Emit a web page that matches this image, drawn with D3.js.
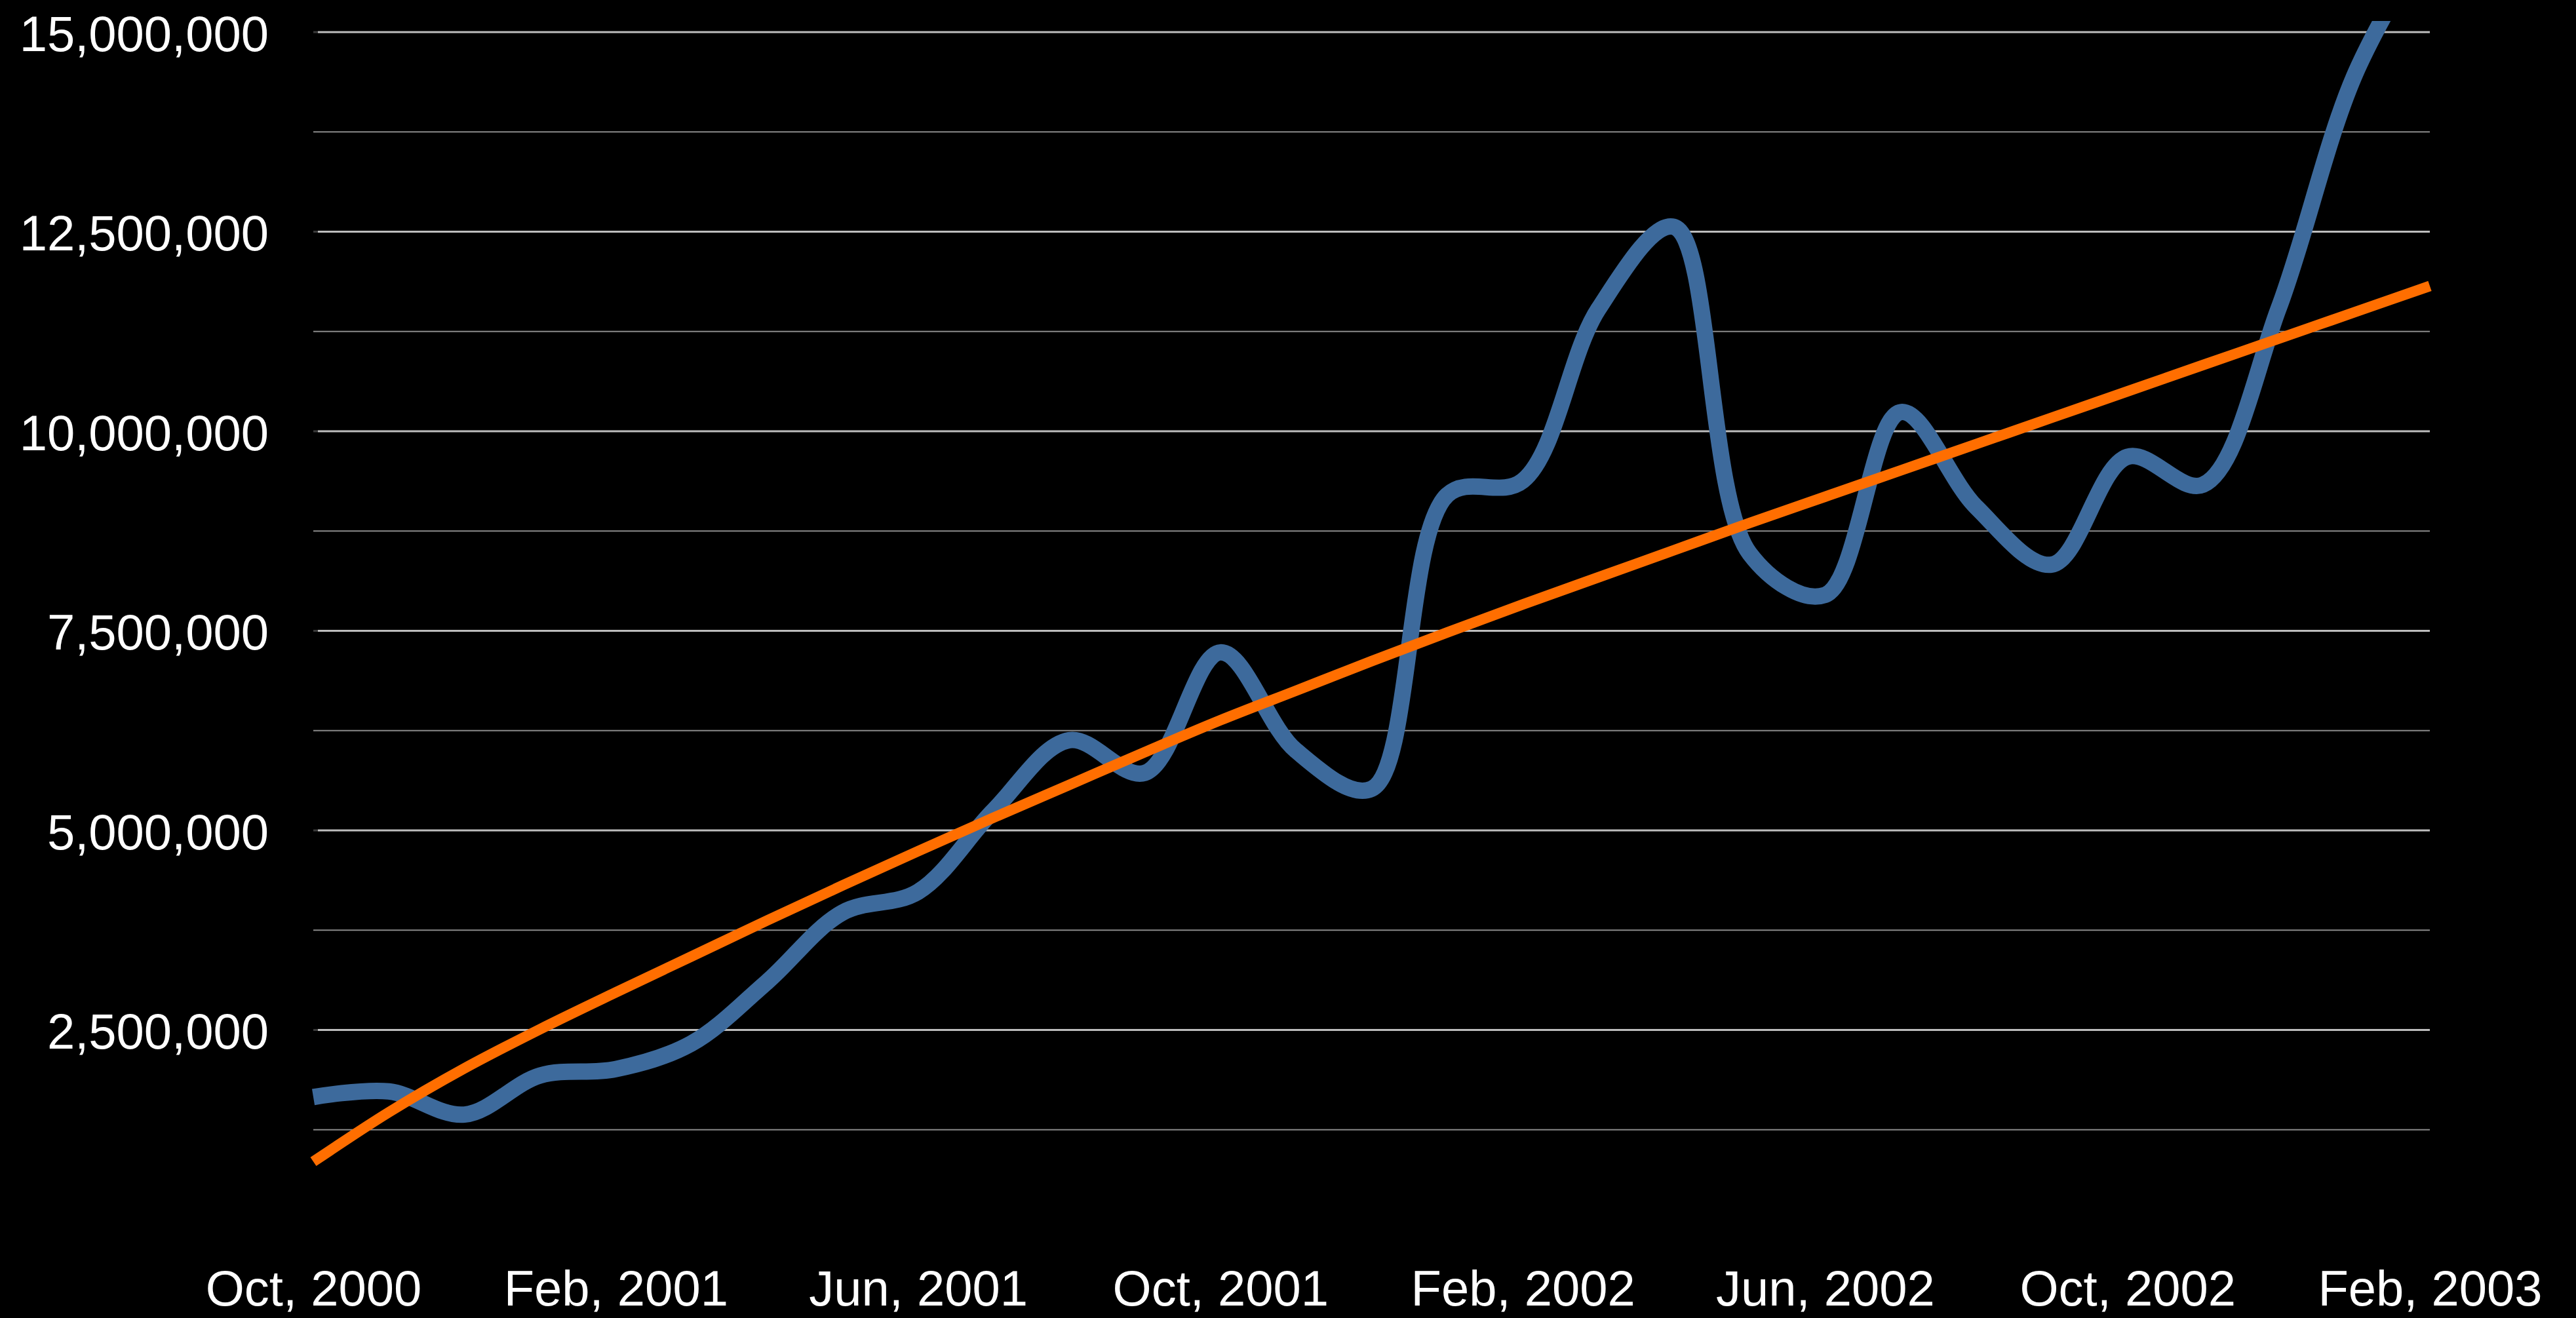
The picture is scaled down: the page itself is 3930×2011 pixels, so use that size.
<!DOCTYPE html>
<html>
<head>
<meta charset="utf-8">
<script src="https://cdn.jsdelivr.net/npm/d3@7"></script>
<style>
  html, body { margin: 0; padding: 0; background: #000; }
  svg { display: block; }
</style>
</head>
<body>
<div id="chart"></div>
<script>
// Monthly categories, Oct 2000 .. Feb 2003
var months = [
  "Oct, 2000", "Nov, 2000", "Dec, 2000",
  "Jan, 2001", "Feb, 2001", "Mar, 2001", "Apr, 2001", "May, 2001", "Jun, 2001",
  "Jul, 2001", "Aug, 2001", "Sep, 2001", "Oct, 2001", "Nov, 2001", "Dec, 2001",
  "Jan, 2002", "Feb, 2002", "Mar, 2002", "Apr, 2002", "May, 2002", "Jun, 2002",
  "Jul, 2002", "Aug, 2002", "Sep, 2002", "Oct, 2002", "Nov, 2002", "Dec, 2002",
  "Jan, 2003", "Feb, 2003"
];
var values = [
  1660000, 1730000, 1440000, 1930000, 2010000, 2330000, 3100000, 3970000, 4230000,
  5250000, 6130000, 5720000, 7230000, 6000000, 5520000, 9200000, 9380000, 11530000,
  12560000, 8470000, 7950000, 10240000, 9050000, 8330000, 9680000, 9330000, 11540000,
  14450000, 16200000
];
// Trend line (orange)
var trend = [
  850000, 1470000, 2020000, 2510000, 2970000, 3420000, 3870000, 4310000, 4740000,
  5160000, 5570000, 5980000, 6380000, 6750000, 7120000, 7480000, 7830000, 8170000,
  8510000, 8850000, 9180000, 9510000, 9840000, 10170000, 10500000, 10830000, 11160000,
  11490000, 11820000
];
var xTickLabels = ["Oct, 2000", "Feb, 2001", "Jun, 2001", "Oct, 2001", "Feb, 2002", "Jun, 2002", "Oct, 2002", "Feb, 2003"];
var yLabelTicks = [2500000, 5000000, 7500000, 10000000, 12500000, 15000000];
var yGridTicks = [1250000, 2500000, 3750000, 5000000, 6250000, 7500000, 8750000, 10000000, 11250000, 12500000, 13750000, 15000000];

(function () {
  var W = 3930, H = 2011;
  var left = 478, right = 3707, top = 49, bottom = 1876;
  var font = "'Liberation Sans', Arial, Helvetica, sans-serif";

  var svg = d3.select("#chart").append("svg")
    .attr("width", W).attr("height", H)
    .style("background", "#000");

  var x = d3.scalePoint().domain(months).range([left, right]);
  var y = d3.scaleLinear().domain([0, 15000000]).range([bottom, top]);

  // clip so the line running past the top is cut flat
  svg.append("defs").append("clipPath").attr("id", "plotclip")
    .append("rect").attr("x", 0).attr("y", 32).attr("width", W).attr("height", H - 32);

  // gridlines: labelled ones lighter and thicker
  var grid = svg.append("g");
  yGridTicks.forEach(function (t) {
    var major = yLabelTicks.indexOf(t) >= 0;
    if (major) {
      grid.append("line")
        .attr("x1", left).attr("x2", left + 7).attr("y1", y(t)).attr("y2", y(t))
        .attr("stroke", "#3a3a3a").attr("stroke-width", 3);
    }
    grid.append("line")
      .attr("x1", major ? left + 7 : left).attr("x2", right)
      .attr("y1", y(t)).attr("y2", y(t))
      .attr("stroke", major ? "#bdbdbd" : "#8a8a8a")
      .attr("stroke-width", major ? 3 : 2);
  });

  // y axis labels
  var yAxis = d3.axisLeft(y).tickValues(yLabelTicks).tickFormat(d3.format(","))
    .tickSize(0).tickPadding(0);
  svg.append("g").attr("transform", "translate(410,0)").call(yAxis)
    .call(function (g) {
      g.select(".domain").remove();
      g.selectAll("text")
        .attr("fill", "#fff").attr("font-family", font).attr("font-size", "76px")
        .attr("dy", "0.37em");
    });

  // x axis labels
  var xAxis = d3.axisBottom(x).tickValues(xTickLabels).tickSize(0).tickPadding(0);
  svg.append("g").attr("transform", "translate(0,1937)").call(xAxis)
    .call(function (g) {
      g.select(".domain").remove();
      g.selectAll("text")
        .attr("fill", "#fff").attr("font-family", font).attr("font-size", "76px")
        .attr("dy", "0.73em");
    });

  var plot = svg.append("g").attr("clip-path", "url(#plotclip)");

  var line = d3.line()
    .x(function (d, i) { return x(months[i]); })
    .y(function (d) { return y(d); })
    .curve(d3.curveCatmullRom.alpha(0.5));

  plot.append("path").datum(values)
    .attr("fill", "none").attr("stroke", "#3d6a9c").attr("stroke-width", 25)
    .attr("stroke-linejoin", "round").attr("d", line);

  plot.append("path").datum(trend)
    .attr("fill", "none").attr("stroke", "#ff6e00").attr("stroke-width", 16)
    .attr("d", line.curve(d3.curveMonotoneX));
})();
</script>
</body>
</html>
